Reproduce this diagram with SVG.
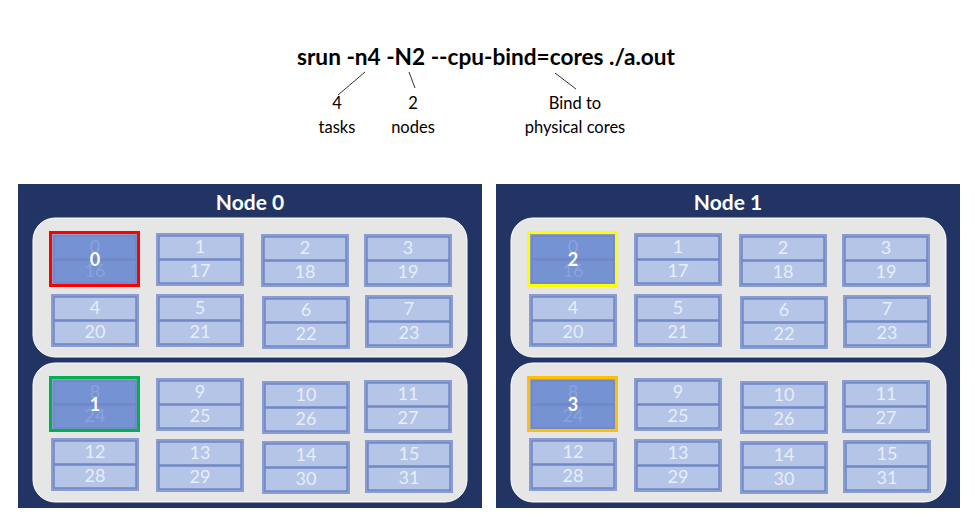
<svg xmlns="http://www.w3.org/2000/svg" width="975" height="521" viewBox="0 0 975 521">
<style>
.bg{fill:#ffffff}
.panel{fill:#223463}
.box{fill:#e6e6e6;stroke:#ffffff;stroke-width:1}
.title{font-family:Lato,"Liberation Sans",sans-serif;font-weight:bold;font-size:21px;fill:#ffffff;text-anchor:middle}
.frame{fill:#8a9dd2}
.cell{fill:#b4c5e7;stroke:#7086c4;stroke-width:1.5}
.on .cell{fill:#7592d3}
.num{font-family:Lato,"Liberation Sans",sans-serif;font-size:18px;fill:#e8edf8;text-anchor:middle}
.on .num{fill:#8ba3dc}
.task{font-family:Lato,"Liberation Sans",sans-serif;font-weight:bold;font-size:18px;fill:#ffffff;text-anchor:middle}
.hl{fill:none;stroke-width:3}
.cmd{font-family:Lato,"Liberation Sans",sans-serif;font-weight:bold;font-size:23px;fill:#000000;text-anchor:middle}
.lbl{font-family:Lato,"Liberation Sans",sans-serif;font-size:16.5px;fill:#000000;text-anchor:middle}
.conn line{stroke:#333333;stroke-width:1}
</style>
<rect class="bg" x="0" y="0" width="975" height="521"/>
<g id="command">
<text class="cmd" x="486" y="65" textLength="378" lengthAdjust="spacingAndGlyphs">srun -n4 -N2 --cpu-bind=cores ./a.out</text>
</g>
<g id="label-tasks"><text class="lbl" x="337" y="109">4</text><text class="lbl" x="337" y="133">tasks</text></g>
<g id="label-nodes"><text class="lbl" x="413" y="109">2</text><text class="lbl" x="413" y="133">nodes</text></g>
<g id="label-bind"><text class="lbl" x="575" y="109">Bind to</text><text class="lbl" x="575" y="133">physical cores</text></g>
<g id="connectors" class="conn">
<line x1="365" y1="72" x2="338" y2="95"/>
<line x1="409" y1="72" x2="415" y2="88"/>
<line x1="555" y1="73" x2="576" y2="89"/>
</g>

<g id="node0">
<rect class="panel" x="18" y="184" width="464" height="324"/>
<text class="title" x="250" y="210">Node 0</text>
<rect class="box" x="33" y="218" width="434" height="139" rx="22"/>
<rect class="box" x="33" y="363" width="434" height="139" rx="22"/>
<g id="n0-core0" class="on"><rect class="frame" x="51" y="233" width="88" height="53"/><rect class="cell" x="54" y="236" width="82" height="23"/><rect class="cell" x="54" y="260" width="82" height="23"/><text class="num" x="95" y="253">0</text><text class="num" x="95" y="277">16</text></g>
<g id="n0-core1"><rect class="frame" x="156" y="233" width="88" height="53"/><rect class="cell" x="159" y="236" width="82" height="23"/><rect class="cell" x="159" y="260" width="82" height="23"/><text class="num" x="200" y="253">1</text><text class="num" x="200" y="277">17</text></g>
<g id="n0-core2"><rect class="frame" x="261" y="234" width="88" height="53"/><rect class="cell" x="264" y="237" width="82" height="23"/><rect class="cell" x="264" y="261" width="82" height="23"/><text class="num" x="305" y="254">2</text><text class="num" x="305" y="278">18</text></g>
<g id="n0-core3"><rect class="frame" x="364" y="234" width="88" height="53"/><rect class="cell" x="367" y="237" width="82" height="23"/><rect class="cell" x="367" y="261" width="82" height="23"/><text class="num" x="408" y="254">3</text><text class="num" x="408" y="278">19</text></g>
<g id="n0-core4"><rect class="frame" x="51" y="294" width="88" height="53"/><rect class="cell" x="54" y="297" width="82" height="23"/><rect class="cell" x="54" y="321" width="82" height="23"/><text class="num" x="95" y="314">4</text><text class="num" x="95" y="338">20</text></g>
<g id="n0-core5"><rect class="frame" x="156" y="294" width="88" height="53"/><rect class="cell" x="159" y="297" width="82" height="23"/><rect class="cell" x="159" y="321" width="82" height="23"/><text class="num" x="200" y="314">5</text><text class="num" x="200" y="338">21</text></g>
<g id="n0-core6"><rect class="frame" x="262" y="296" width="88" height="53"/><rect class="cell" x="265" y="299" width="82" height="23"/><rect class="cell" x="265" y="323" width="82" height="23"/><text class="num" x="306" y="316">6</text><text class="num" x="306" y="340">22</text></g>
<g id="n0-core7"><rect class="frame" x="365" y="295" width="88" height="53"/><rect class="cell" x="368" y="298" width="82" height="23"/><rect class="cell" x="368" y="322" width="82" height="23"/><text class="num" x="409" y="315">7</text><text class="num" x="409" y="339">23</text></g>
<g id="n0-core8" class="on"><rect class="frame" x="51" y="378" width="88" height="53"/><rect class="cell" x="54" y="381" width="82" height="23"/><rect class="cell" x="54" y="405" width="82" height="23"/><text class="num" x="95" y="398">8</text><text class="num" x="95" y="422">24</text></g>
<g id="n0-core9"><rect class="frame" x="156" y="378" width="88" height="53"/><rect class="cell" x="159" y="381" width="82" height="23"/><rect class="cell" x="159" y="405" width="82" height="23"/><text class="num" x="200" y="398">9</text><text class="num" x="200" y="422">25</text></g>
<g id="n0-core10"><rect class="frame" x="262" y="381" width="88" height="53"/><rect class="cell" x="265" y="384" width="82" height="23"/><rect class="cell" x="265" y="408" width="82" height="23"/><text class="num" x="306" y="401">10</text><text class="num" x="306" y="425">26</text></g>
<g id="n0-core11"><rect class="frame" x="364" y="380" width="88" height="53"/><rect class="cell" x="367" y="383" width="82" height="23"/><rect class="cell" x="367" y="407" width="82" height="23"/><text class="num" x="408" y="400">11</text><text class="num" x="408" y="424">27</text></g>
<g id="n0-core12"><rect class="frame" x="51" y="438" width="88" height="53"/><rect class="cell" x="54" y="441" width="82" height="23"/><rect class="cell" x="54" y="465" width="82" height="23"/><text class="num" x="95" y="458">12</text><text class="num" x="95" y="482">28</text></g>
<g id="n0-core13"><rect class="frame" x="156" y="439" width="88" height="53"/><rect class="cell" x="159" y="442" width="82" height="23"/><rect class="cell" x="159" y="466" width="82" height="23"/><text class="num" x="200" y="459">13</text><text class="num" x="200" y="483">29</text></g>
<g id="n0-core14"><rect class="frame" x="262" y="441" width="88" height="53"/><rect class="cell" x="265" y="444" width="82" height="23"/><rect class="cell" x="265" y="468" width="82" height="23"/><text class="num" x="306" y="461">14</text><text class="num" x="306" y="485">30</text></g>
<g id="n0-core15"><rect class="frame" x="365" y="440" width="88" height="53"/><rect class="cell" x="368" y="443" width="82" height="23"/><rect class="cell" x="368" y="467" width="82" height="23"/><text class="num" x="409" y="460">15</text><text class="num" x="409" y="484">31</text></g>
<g id="task0"><rect class="hl" x="50.5" y="232.5" width="88" height="53" stroke="#ff0000"/><text class="task" x="95" y="266">0</text></g>
<g id="task1"><rect class="hl" x="50.5" y="377.5" width="88" height="53" stroke="#00b050"/><text class="task" x="95" y="411">1</text></g>
</g>

<g id="node1">
<rect class="panel" x="496" y="184" width="464" height="324"/>
<text class="title" x="728" y="210">Node 1</text>
<rect class="box" x="511" y="218" width="435" height="139" rx="22"/>
<rect class="box" x="511" y="363" width="435" height="139" rx="22"/>
<g transform="translate(478,0)">
<g id="n1-core0" class="on"><rect class="frame" x="51" y="233" width="88" height="53"/><rect class="cell" x="54" y="236" width="82" height="23"/><rect class="cell" x="54" y="260" width="82" height="23"/><text class="num" x="95" y="253">0</text><text class="num" x="95" y="277">16</text></g>
<g id="n1-core1"><rect class="frame" x="156" y="233" width="88" height="53"/><rect class="cell" x="159" y="236" width="82" height="23"/><rect class="cell" x="159" y="260" width="82" height="23"/><text class="num" x="200" y="253">1</text><text class="num" x="200" y="277">17</text></g>
<g id="n1-core2"><rect class="frame" x="261" y="234" width="88" height="53"/><rect class="cell" x="264" y="237" width="82" height="23"/><rect class="cell" x="264" y="261" width="82" height="23"/><text class="num" x="305" y="254">2</text><text class="num" x="305" y="278">18</text></g>
<g id="n1-core3"><rect class="frame" x="364" y="234" width="88" height="53"/><rect class="cell" x="367" y="237" width="82" height="23"/><rect class="cell" x="367" y="261" width="82" height="23"/><text class="num" x="408" y="254">3</text><text class="num" x="408" y="278">19</text></g>
<g id="n1-core4"><rect class="frame" x="51" y="294" width="88" height="53"/><rect class="cell" x="54" y="297" width="82" height="23"/><rect class="cell" x="54" y="321" width="82" height="23"/><text class="num" x="95" y="314">4</text><text class="num" x="95" y="338">20</text></g>
<g id="n1-core5"><rect class="frame" x="156" y="294" width="88" height="53"/><rect class="cell" x="159" y="297" width="82" height="23"/><rect class="cell" x="159" y="321" width="82" height="23"/><text class="num" x="200" y="314">5</text><text class="num" x="200" y="338">21</text></g>
<g id="n1-core6"><rect class="frame" x="262" y="296" width="88" height="53"/><rect class="cell" x="265" y="299" width="82" height="23"/><rect class="cell" x="265" y="323" width="82" height="23"/><text class="num" x="306" y="316">6</text><text class="num" x="306" y="340">22</text></g>
<g id="n1-core7"><rect class="frame" x="365" y="295" width="88" height="53"/><rect class="cell" x="368" y="298" width="82" height="23"/><rect class="cell" x="368" y="322" width="82" height="23"/><text class="num" x="409" y="315">7</text><text class="num" x="409" y="339">23</text></g>
<g id="n1-core8" class="on"><rect class="frame" x="51" y="378" width="88" height="53"/><rect class="cell" x="54" y="381" width="82" height="23"/><rect class="cell" x="54" y="405" width="82" height="23"/><text class="num" x="95" y="398">8</text><text class="num" x="95" y="422">24</text></g>
<g id="n1-core9"><rect class="frame" x="156" y="378" width="88" height="53"/><rect class="cell" x="159" y="381" width="82" height="23"/><rect class="cell" x="159" y="405" width="82" height="23"/><text class="num" x="200" y="398">9</text><text class="num" x="200" y="422">25</text></g>
<g id="n1-core10"><rect class="frame" x="262" y="381" width="88" height="53"/><rect class="cell" x="265" y="384" width="82" height="23"/><rect class="cell" x="265" y="408" width="82" height="23"/><text class="num" x="306" y="401">10</text><text class="num" x="306" y="425">26</text></g>
<g id="n1-core11"><rect class="frame" x="364" y="380" width="88" height="53"/><rect class="cell" x="367" y="383" width="82" height="23"/><rect class="cell" x="367" y="407" width="82" height="23"/><text class="num" x="408" y="400">11</text><text class="num" x="408" y="424">27</text></g>
<g id="n1-core12"><rect class="frame" x="51" y="438" width="88" height="53"/><rect class="cell" x="54" y="441" width="82" height="23"/><rect class="cell" x="54" y="465" width="82" height="23"/><text class="num" x="95" y="458">12</text><text class="num" x="95" y="482">28</text></g>
<g id="n1-core13"><rect class="frame" x="156" y="439" width="88" height="53"/><rect class="cell" x="159" y="442" width="82" height="23"/><rect class="cell" x="159" y="466" width="82" height="23"/><text class="num" x="200" y="459">13</text><text class="num" x="200" y="483">29</text></g>
<g id="n1-core14"><rect class="frame" x="262" y="441" width="88" height="53"/><rect class="cell" x="265" y="444" width="82" height="23"/><rect class="cell" x="265" y="468" width="82" height="23"/><text class="num" x="306" y="461">14</text><text class="num" x="306" y="485">30</text></g>
<g id="n1-core15"><rect class="frame" x="365" y="440" width="88" height="53"/><rect class="cell" x="368" y="443" width="82" height="23"/><rect class="cell" x="368" y="467" width="82" height="23"/><text class="num" x="409" y="460">15</text><text class="num" x="409" y="484">31</text></g>
<g id="task2"><rect class="hl" x="50.5" y="232.5" width="88" height="53" stroke="#ffff00"/><text class="task" x="95" y="266">2</text></g>
<g id="task3"><rect class="hl" x="50.5" y="377.5" width="88" height="53" stroke="#ffc000"/><text class="task" x="95" y="411">3</text></g>
</g>
</g>
</svg>
